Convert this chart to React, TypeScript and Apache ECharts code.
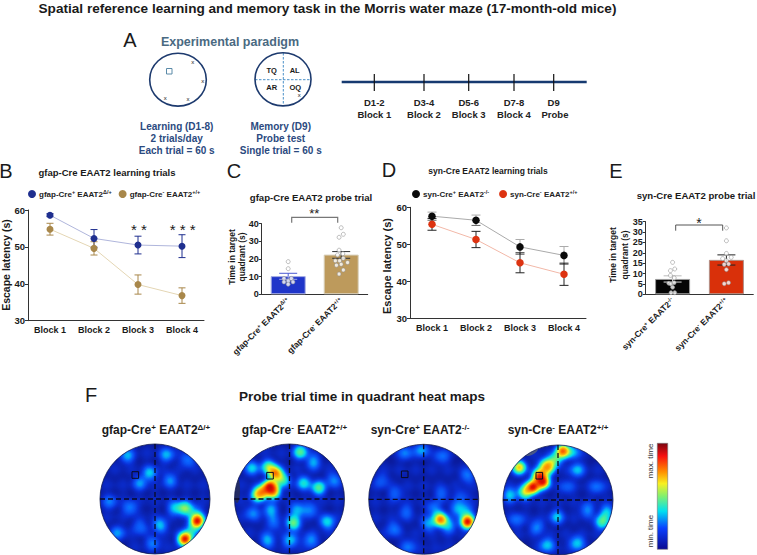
import React, { useEffect, useRef } from "react";
import * as echarts from "echarts";

const FONT = "Liberation Sans";
const blocks = ["Block 1", "Block 2", "Block 3", "Block 4"];

// Panel B
const gfapKoName = "gfap-Cre+ EAAT2Δ/+";
const gfapWtName = "gfap-Cre- EAAT2+/+";
const gfapKoLatency = [58.6, 52.3, 50.5, 50.2];
const gfapKoErr = [0.4, 2.4, 2.4, 3.1];
const gfapWtLatency = [54.8, 49.6, 39.8, 36.8];
const gfapWtErr = [1.6, 1.8, 2.6, 2.1];

// Panel C
const gfapProbeCats = ["gfap-Cre{s|+} EAAT2{s|Δ/+}", "gfap-Cre{s|-} EAAT2{s|+/+}"];
const gfapProbeMeans = [10.3, 22.5];
const gfapProbeLow = [8.5, 20.4];
const gfapProbeHigh = [11.9, 24.2];
const gfapKoDots = [[0.5, 18.5], [0.5, 14.5], [0.56, 9], [0.42, 9], [0.5, 7.5], [0.59, 7], [0.42, 7], [0.5, 5.7]];
const gfapWtDots = [[1.5, 37.7], [1.54, 34], [1.46, 32.3], [1.46, 25], [1.43, 22.3], [1.53, 23], [1.39, 19], [1.47, 19], [1.54, 20.4], [1.62, 18], [1.5, 17], [1.41, 16.5], [1.54, 13.8], [1.46, 11.5]];

// Panel D
const synKoName = "syn-Cre+ EAAT2-/-";
const synWtName = "syn-Cre- EAAT2+/+";
const synKoLatency = [57.6, 56.5, 49.3, 47];
const synKoErr = [1.1, 1.4, 2, 2.4];
const synWtLatency = [55.4, 51.3, 45, 41.9];
const synWtErr = [1.6, 2.2, 2.7, 3];

// Panel E
const synProbeCats = ["syn-Cre{s|+} EAAT2{s|-/-}", "syn-Cre{s|-} EAAT2{s|+/+}"];
const synProbeMeans = [7.4, 16.6];
const synProbeLow = [5.9, 14.1];
const synProbeHigh = [8.9, 19];
const synKoDots = [[0.5, 15.4], [0.54, 12.2], [0.46, 11.4], [0.46, 9.1], [0.53, 7.9], [0.43, 5.3], [0.47, 5], [0.53, 5.6], [0.5, 3.4], [0.54, 0.8], [0.47, 0.8]];
const synWtDots = [[1.5, 32], [1.5, 25.8], [1.5, 19.7], [1.59, 17.8], [1.43, 17.2], [1.5, 16.2], [1.54, 14.6], [1.46, 14.4], [1.5, 11.9], [1.54, 5.6], [1.46, 5.1]];

// Panel F: heat values, [x, y, level], x/y from arena centre
const blueField = [
  [-24, 46, .1], [-8, 46, .1], [8, 46, .1], [24, 46, .1],
  [-40, 30, .1], [-24, 30, .1], [-8, 30, .1], [8, 30, .1], [24, 30, .1], [40, 30, .1],
  [-48, 14, .1], [-32, 14, .1], [-16, 14, .1], [0, 14, .1], [16, 14, .1], [32, 14, .1], [48, 14, .1],
  [-48, -2, .1], [-32, -2, .1], [-16, -2, .1], [0, -2, .1], [16, -2, .1], [32, -2, .1], [48, -2, .1],
  [-48, -18, .1], [-32, -18, .1], [-16, -18, .1], [0, -18, .1], [16, -18, .1], [32, -18, .1], [48, -18, .1],
  [-40, -34, .1], [-24, -34, .1], [-8, -34, .1], [8, -34, .1], [24, -34, .1], [40, -34, .1],
  [-20, -48, .1], [-4, -48, .1], [12, -48, .1], [26, -48, .1],
];
const heatGfapKo = [
  [42.3, -22, .97], [30, -40, .95], [36.7, -31, .35], [30, -9.3, .55], [20, -9, .36], [40, -12.7, .3], [5, -26, .36],
  [-5, 25.7, .36], [15, 19, .28], [12, 44, .32], [-28, 43, .32], [33, 39, .28], [-15, 16, .28], [-25, -9, .28],
  [-45, -3, .24], [-37, -34, .28], [-2, -44, .24], [-15, -28, .24],
];
const heatGfapWt = [
  [-19.7, 12.3, .95], [-14, 25.7, .8], [-20.7, 32, .55], [-27, 7, .65], [-32, 4, .55], [-16, 7, .7], [-7, 19, .5],
  [-37, 31, .36], [11, 47, .5], [14, 16, .4], [29, 11, .5], [24, 37, .32], [44, 19, .28], [4, -24, .55],
  [7.7, -11, .36], [1, -41, .36], [38, -23, .4], [-19, -11, .34], [-37, -14, .28], [-22, -41, .32], [-16, -24, .24],
  [21, -41, .28], [21, -11, .28],
];
const heatSynKo = [
  [16.7, -19.7, .82], [43.7, -22, .97], [-2, 50, .32], [-18, 47, .26], [18, 43, .24], [44, 24, .26], [10, -9, .28],
  [33, -9, .28], [5, -24, .32], [25, -26, .34], [42, -11, .32], [-30, -29, .26], [-15, -47, .24], [-18, -12, .22],
  [-28, 6, .22], [-42, 19, .2], [18, 6, .22], [38, 3, .2],
];
const heatSynWt = [
  [4.7, 49, .85], [-38.7, 32.7, .7], [-18.7, 24, .85], [-25, 13, .95], [-15, 18, .9], [-33, 8, .6], [-10, 32, .6],
  [-3, 40, .5], [-13, 35, .45], [44, -22, .5], [49, -12, .36], [-48, 5, .36], [19, 30, .34], [15, 48, .34],
  [-1, -17, .34], [-21, -27, .28], [-11, -45, .36], [19, -43, .36], [29, -10, .28], [39, 13, .24], [-41, -20, .24], [9, 13, .2],
];
const heatTitles = ["gfap-Cre{s|+} EAAT2{s|Δ/+}", "gfap-Cre{s|-} EAAT2{s|+/+}", "syn-Cre{s|+} EAAT2{s|-/-}", "syn-Cre{s|-} EAAT2{s|+/+}"];
const heatValues = [heatGfapKo, heatGfapWt, heatSynKo, heatSynWt];
const jet = ["#0a1a9a", "#0a30d8", "#0a62ff", "#00d8f0", "#50f090", "#f0f020", "#ff8a00", "#e81000", "#7a0510"];

// Timeline
const timelineDays = ["D1-2", "D3-4", "D5-6", "D7-8", "D9"];
const timelineBlocks = ["Block 1", "Block 2", "Block 3", "Block 4", "Probe"];
const timelineX = [374.3, 424, 468.7, 514, 553.7];

const sup = { fontSize: 6, fontWeight: "bold", fontFamily: FONT, verticalAlign: "top", color: "#222", lineHeight: 10, padding: [0, 0, 3, 0] };

function supify(name: string) {
  return name.replace(/([+-])( EAAT2)(.*)$/, "{s|$1}$2{s|$3}");
}

function errSeries(xAxisIndex: number, yAxisIndex: number, rows: number[][], cap: number, up: string, down: string, z = 4) {
  return {
    type: "custom", xAxisIndex, yAxisIndex, z, silent: true, data: rows,
    encode: { x: 0, y: [1, 2, 3] },
    renderItem(_: any, api: any) {
      const c = (v: number) => api.coord([api.value(0), v]);
      const lo = c(api.value(1)), mid = c(api.value(2)), hi = c(api.value(3));
      const seg = (a: number[], b: number[], s: string) => ({
        type: "line", shape: { x1: a[0], y1: a[1], x2: b[0], y2: b[1] }, style: { stroke: s, lineWidth: 1 },
      });
      return {
        type: "group",
        children: [
          seg(hi, mid, up), seg(mid, lo, down),
          seg([hi[0] - cap, hi[1]], [hi[0] + cap, hi[1]], up),
          seg([lo[0] - cap, lo[1]], [lo[0] + cap, lo[1]], down),
        ],
      };
    },
  };
}
const errRows = (m: number[], e: number[]) => m.map((v, i) => [i, v - e[i], v, v + e[i]]);
const barRows = (m: number[], l: number[], h: number[]) => m.map((v, i) => [i, l[i], v, h[i]]);

const txt = (x: number, y: number, text: string, o: any = {}) => ({
  type: "text", x, y, z: 200, rotation: o.rot || 0, silent: true,
  style: {
    text, fill: o.color || "#1a1a1a", fontSize: o.fs || 9, fontWeight: o.w || "bold", fontFamily: FONT,
    align: o.align || "center", verticalAlign: "middle", rich: o.rich,
  },
});
const seg = (x1: number, y1: number, x2: number, y2: number, stroke: string, lineWidth: number, dash?: number[], z = 200) => ({
  type: "line", z, silent: true, shape: { x1, y1, x2, y2 }, style: { stroke, lineWidth, lineDash: dash },
});

function lineGrid(left: number, top: number, height: number) {
  return { left, top, width: 176, height };
}
const axisX = (gridIndex: number, data: string[], extra: any = {}) => ({
  type: "category", gridIndex, data,
  axisLine: { lineStyle: { color: "#333", width: 1 } },
  axisTick: { alignWithLabel: true, length: 3, lineStyle: { color: "#333" } },
  axisLabel: { color: "#1a1a1a", fontFamily: FONT, fontWeight: "bold", fontSize: 9, margin: 5, interval: 0, ...extra },
});
const axisY = (gridIndex: number, min: number, max: number, interval: number, fs: number) => ({
  type: "value", gridIndex, min, max, interval, splitLine: { show: false },
  axisLine: { show: true, lineStyle: { color: "#333", width: 1 } },
  axisTick: { show: true, length: 3, lineStyle: { color: "#333" } },
  axisLabel: { color: "#1a1a1a", fontFamily: FONT, fontWeight: "bold", fontSize: fs, margin: 3 },
});
const jitterX = (gridIndex: number) => ({ type: "value", gridIndex, min: 0, max: 2, show: false });
const lineS = (name: string, xi: number, data: number[], line: string, mark: string, size: number) => ({
  type: "line", name, xAxisIndex: xi, yAxisIndex: xi, data, z: 5, symbol: "circle", symbolSize: size,
  lineStyle: { color: line, width: 1 }, itemStyle: { color: mark }, silent: true,
});
const dotS = (xi: number, yi: number, data: number[][]) => ({
  type: "scatter", xAxisIndex: xi, yAxisIndex: yi, data, z: 6, symbolSize: 4, silent: true,
  itemStyle: { color: "#fff", borderColor: "#8a8a8a", borderWidth: 0.7 },
});
const barS = (xi: number, data: any[], color: string, border: string) => ({
  type: "bar", xAxisIndex: xi, yAxisIndex: xi, barWidth: 35, barGap: "-100%", z: 3, silent: true,
  data, itemStyle: { color, borderColor: border, borderWidth: 1 },
});
const legendOf = (left: number, top: number, names: string[], itemGap: number) => ({
  left, top, data: names, icon: "circle", itemWidth: 8, itemHeight: 8, itemGap, selectedMode: false,
  formatter: (n: string) => supify(n),
  textStyle: {
    fontFamily: FONT, fontWeight: "bold", fontSize: 8, color: "#222", padding: [0, 0, 0, -2],
    rich: { s: { ...sup, fontSize: 5.5 } },
  },
});

export default function App() {
  const ref = useRef<HTMLDivElement>(null);
  useEffect(() => {
    document.body.style.margin = "0";
    const ring: number[][] = [];
    for (let a = 0; a < 72; a++) ring.push([55 * Math.cos((a * Math.PI) / 36), 55 * Math.sin((a * Math.PI) / 36)]);
    ring.push(ring[0]);
    echarts.registerMap("arena", {
      type: "FeatureCollection",
      features: [{ type: "Feature", properties: { name: "arena" }, geometry: { type: "Polygon", coordinates: [ring] } }],
    } as any);
    const chart = echarts.init(ref.current!, null, { renderer: "svg" });

    const heatCx = [155, 289.5, 423.7, 558];
    const heatCy = [499, 499, 499.3, 500];
    const heatSq = [[135.3, 475], [270, 475.7], [404.7, 474.3], [539.3, 475.7]];

    const gfx: any[] = [
      txt(327.5, 8, "Spatial reference learning and memory task in the Morris water maze (17-month-old mice)", { fs: 13.6 }),
      txt(130, 40, "A", { fs: 20, w: "normal" }),
      txt(230, 42, "Experimental paradigm", { fs: 12.5, color: "#4a6a82" }),
      { type: "ellipse", z: 200, silent: true, shape: { cx: 178, cy: 79.7, rx: 28.3, ry: 26.4 }, style: { fill: "none", stroke: "#1d3a6e", lineWidth: 1.6 } },
      { type: "rect", z: 200, silent: true, shape: { x: 166.5, y: 68.5, width: 5.5, height: 5.5 }, style: { fill: "none", stroke: "#5a8aa8", lineWidth: 1 } },
      txt(192.7, 61.7, "x", { fs: 6, w: "normal" }), txt(202.7, 80.7, "x", { fs: 6, w: "normal" }),
      txt(188, 99, "x", { fs: 6, w: "normal" }), txt(165.3, 97.7, "x", { fs: 6, w: "normal" }),
      seg(283.3, 53, 283.3, 106, "#4a90c8", 1, [2.5, 1.5]), seg(255, 79.7, 311, 79.7, "#4a90c8", 1, [2.5, 1.5]),
      { type: "ellipse", z: 200, silent: true, shape: { cx: 283, cy: 79.3, rx: 28, ry: 26.6 }, style: { fill: "none", stroke: "#1d3a6e", lineWidth: 1.6 } },
      txt(271.7, 70.3, "TQ", { fs: 7.5 }), txt(294.7, 70.3, "AL", { fs: 7.5 }),
      txt(271.7, 87, "AR", { fs: 7.5 }), txt(295.3, 87.7, "OQ", { fs: 7.5 }),
      txt(299.3, 95.3, "x", { fs: 6, w: "normal" }),
      ...["Learning (D1-8)", "2 trials/day", "Each trial = 60 s"].map((t, i) => txt(176.7, 126 + i * 12, t, { fs: 10, color: "#2b4a80" })),
      ...["Memory (D9)", "Probe test", "Single trial = 60 s"].map((t, i) => txt(280.7, 126 + i * 12, t, { fs: 10, color: "#2b4a80" })),
      seg(341.7, 82, 586.7, 82, "#163a70", 2.4),
      ...timelineX.map((x) => seg(x, 74, x, 91, "#111", 1.2)),
      ...timelineDays.map((t, i) => txt(timelineX[i], 102.3, t, { fs: 9.5, color: "#222" })),
      ...timelineBlocks.map((t, i) => txt(timelineX[i] + (i === 4 ? 1.3 : 0), 114, t, { fs: 9.5, color: "#222" })),

      txt(6, 171, "B", { fs: 20, w: "normal" }), txt(234, 171, "C", { fs: 20, w: "normal" }),
      txt(389, 170, "D", { fs: 20, w: "normal" }), txt(616, 171, "E", { fs: 20, w: "normal" }),
      txt(91, 395, "F", { fs: 20, w: "normal" }),
      txt(107, 172, "gfap-Cre EAAT2 learning trials", { fs: 9.5 }),
      txt(311, 197, "gfap-Cre EAAT2 probe trial", { fs: 9.6 }),
      txt(488, 171, "syn-Cre EAAT2 learning trials", { fs: 8.5 }),
      txt(696, 195, "syn-Cre EAAT2 probe trial", { fs: 9.6 }),
      txt(6, 265, "Escape latency (s)", { fs: 10.5, rot: Math.PI / 2 }),
      txt(387, 266, "Escape latency (s)", { fs: 11, rot: Math.PI / 2 }),
      txt(232, 257, "Time in target", { fs: 8.5, rot: Math.PI / 2 }), txt(242, 257, "quadrant (s)", { fs: 8.5, rot: Math.PI / 2 }),
      txt(613, 255, "Time in target", { fs: 8.5, rot: Math.PI / 2 }), txt(625, 255, "quadrant (s)", { fs: 8.5, rot: Math.PI / 2 }),
      txt(139, 229, "* *", { fs: 15, w: "normal" }), txt(182.7, 229, "* * *", { fs: 15, w: "normal" }),
      txt(314.3, 213, "**", { fs: 13, w: "normal" }), txt(699, 223, "*", { fs: 14, w: "normal" }),
      { type: "polyline", z: 200, silent: true, shape: { points: [[291.7, 222.7], [291.7, 217.3], [337.7, 217.3], [337.7, 222.7]] }, style: { fill: "none", stroke: "#777", lineWidth: 1.2 } },
      { type: "polyline", z: 200, silent: true, shape: { points: [[675.7, 230.7], [675.7, 225], [722.7, 225], [722.7, 230.7]] }, style: { fill: "none", stroke: "#555", lineWidth: 1 } },

      txt(362, 396.7, "Probe trial time in quadrant heat maps", { fs: 13.5 }),
      { type: "rect", z: 200, silent: true, shape: { x: 657.3, y: 443.3, width: 10.4, height: 106 },
        style: { stroke: "#777", lineWidth: 0.6, fill: new echarts.graphic.LinearGradient(0, 0, 0, 1, [
          { offset: 0, color: "#7a0510" }, { offset: 0.12, color: "#f81010" }, { offset: 0.27, color: "#ff9000" },
          { offset: 0.38, color: "#f8f020" }, { offset: 0.5, color: "#80f070" }, { offset: 0.64, color: "#00e0f0" },
          { offset: 0.8, color: "#0a40ff" }, { offset: 1, color: "#0a0a90" } ]) } },
      txt(650.7, 461, "max. time", { fs: 8, w: "normal", rot: Math.PI / 2, color: "#333" }),
      txt(650.7, 531, "min. time", { fs: 8, w: "normal", rot: Math.PI / 2, color: "#333" }),
      { type: "ellipse", z: 99, silent: true, rotation: 0.5, x: 531.7, y: 451.7, shape: { cx: 0, cy: 0, rx: 7, ry: 3 }, style: { fill: "#5a6478", opacity: 0.8 } },
      { type: "ellipse", z: 99, silent: true, x: 237, y: 490, shape: { cx: 0, cy: 0, rx: 3, ry: 13 }, style: { fill: "#2a3050", opacity: 0.8 } },
    ];
    const titleX = [156, 294.5, 420, 558];
    heatCx.forEach((cx, i) => {
      const cy = heatCy[i];
      gfx.push(
        { type: "ring", z: 100, silent: true, shape: { cx, cy, r0: 55, r: 79 }, style: { fill: "#fff" } },
        { type: "circle", z: 101, silent: true, shape: { cx, cy, r: 55 }, style: { fill: "none", stroke: "#101a50", lineWidth: 0.8 } },
        seg(cx, cy - 55, cx, cy + 55, "#0a0a20", 1.3, [5, 3], 102),
        seg(cx - 55, cy, cx + 55, cy, "#0a0a20", 1.3, [5, 3], 102),
        { type: "rect", z: 102, silent: true, shape: { x: heatSq[i][0] - 3.3, y: heatSq[i][1] - 3.3, width: 6.6, height: 6.6 }, style: { fill: "none", stroke: "#0a0a20", lineWidth: 1 } },
        txt(titleX[i], 430, heatTitles[i], { fs: 12, rich: { s: { ...sup, fontSize: 8, lineHeight: 14 } } }),
      );
    });

    const heatSeries = heatValues.map((h, i) => ({
      type: "heatmap", coordinateSystem: "geo", geoIndex: i, data: [...blueField, ...h],
      pointSize: 7, blurSize: 6, minOpacity: 1, maxOpacity: 1, silent: true, z: 2,
    }));

    const series: any[] = [
      errSeries(0, 0, errRows(gfapKoLatency, gfapKoErr), 3.5, "#1f2f8f", "#1f2f8f"),
      errSeries(0, 0, errRows(gfapWtLatency, gfapWtErr), 3.5, "#a8874a", "#a8874a"),
      lineS(gfapKoName, 0, gfapKoLatency, "#b0b6dc", "#1f2f8f", 7),
      lineS(gfapWtName, 0, gfapWtLatency, "#e4d6b4", "#a8874a", 7),
      barS(1, [gfapProbeMeans[0], null], "#1f35c9", "#a8b0e4"),
      barS(1, [null, gfapProbeMeans[1]], "#bd9a5c", "#d8d0bc"),
      errSeries(1, 1, barRows(gfapProbeMeans, gfapProbeLow, gfapProbeHigh).slice(0, 1), 9, "#4a5ad0", "#a0a8e8"),
      errSeries(1, 1, barRows(gfapProbeMeans, gfapProbeLow, gfapProbeHigh).slice(1), 9, "#333", "#333"),
      dotS(4, 1, gfapKoDots),
      dotS(4, 1, gfapWtDots),
      errSeries(2, 2, errRows(synKoLatency, synKoErr), 4.5, "#aaa", "#666"),
      errSeries(2, 2, errRows(synWtLatency, synWtErr), 4.5, "#222", "#222"),
      lineS(synKoName, 2, synKoLatency, "#aaa", "#0a0a0a", 7.5),
      lineS(synWtName, 2, synWtLatency, "#f2b8a8", "#dd3311", 7.5),
      barS(3, [synProbeMeans[0], null], "#050505", "#999"),
      barS(3, [null, synProbeMeans[1]], "#d9300a", "#b09088"),
      errSeries(3, 3, barRows(synProbeMeans, synProbeLow, synProbeHigh).slice(0, 1), 9, "#bbb", "#ddd"),
      errSeries(3, 3, barRows(synProbeMeans, synProbeLow, synProbeHigh).slice(1), 9, "#222", "#222"),
      dotS(5, 3, synKoDots),
      dotS(5, 3, synWtDots),
      ...heatSeries,
    ];
    const firstHeat = series.length - heatSeries.length;
    const rotLabel = { rotate: 45, fontSize: 8.5, margin: 5, rich: { s: { ...sup, fontSize: 5.5 } } };

    chart.setOption({
      animation: false,
      backgroundColor: "#fff",
      grid: [
        lineGrid(28, 210, 110.7),
        { left: 261.7, top: 223.7, width: 106, height: 70.6 },
        lineGrid(410, 207.3, 111),
        { left: 645.7, top: 221.7, width: 107.6, height: 72.6 },
      ],
      xAxis: [
        axisX(0, blocks), axisX(1, gfapProbeCats, rotLabel), axisX(2, blocks), axisX(3, synProbeCats, rotLabel),
        jitterX(1), jitterX(3),
      ],
      yAxis: [axisY(0, 30, 60, 10, 9.5), axisY(1, 0, 40, 10, 9), axisY(2, 30, 60, 10, 9.5), axisY(3, 0, 35, 5, 9)],
      legend: [legendOf(23, 184, [gfapKoName, gfapWtName], 7), legendOf(407, 184, [synKoName, synWtName], 10)],
      geo: heatCx.map((cx, i) => ({
        map: "arena", aspectScale: 1, layoutCenter: [cx, heatCy[i]], layoutSize: 110, silent: true, roam: false,
        label: { show: false }, itemStyle: { areaColor: jet[0], borderWidth: 0 }, emphasis: { disabled: true },
      })),
      visualMap: {
        type: "continuous", show: false, min: 0, max: 1, dimension: 2,
        seriesIndex: heatSeries.map((_, i) => firstHeat + i), inRange: { color: jet },
      },
      graphic: { elements: gfx },
      series,
    });
    return () => chart.dispose();
  }, []);
  return <div ref={ref} style={{ width: 757, height: 555, position: "absolute", left: 0, top: 0 }} />;
}
